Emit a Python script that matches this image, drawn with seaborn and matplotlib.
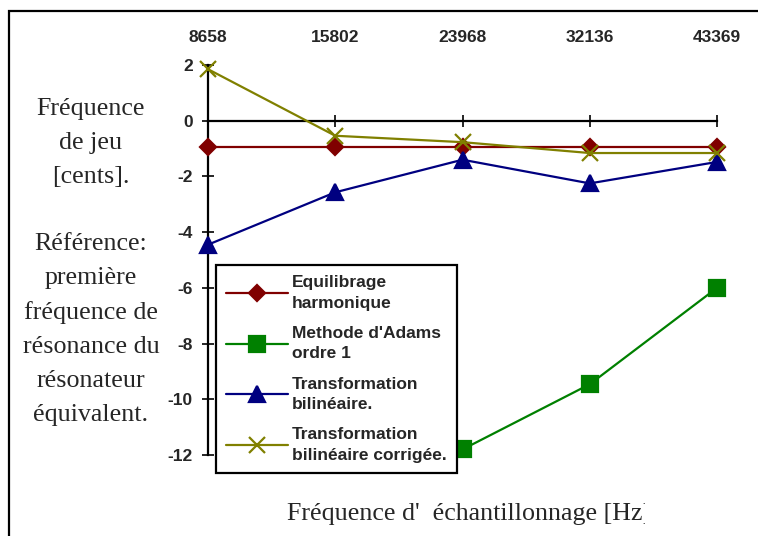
import numpy as np
import pandas as pd
import matplotlib
matplotlib.use("Agg")
import matplotlib.pyplot as plt
import seaborn as sns
from matplotlib.lines import Line2D
from matplotlib.patches import Rectangle

# Sampling frequencies (Hz) shown as categories
frequencies = ["8658", "15802", "23968", "32136", "43369"]

# Playing-frequency deviation in cents for each discretisation method
equilibrage = [-0.95, -0.95, -0.95, -0.95, -0.95]
adams = [np.nan, np.nan, -11.8, -9.46, -6.0]
bilineaire = [-4.45, -2.57, -1.4, -2.25, -1.48]
corrigee = [1.85, -0.54, -0.77, -1.16, -1.16]

labels = [
    "Equilibrage\nharmonique",
    "Methode d'Adams\nordre 1",
    "Transformation\nbilinéaire.",
    "Transformation\nbilinéaire corrigée.",
]
colors = ["#800000", "#008000", "#000080", "#808000"]
markers = ["D", "s", "^", "x"]
sizes = [8.5, 11.5, 12, 12]

ytick_values = [-12, -10, -8, -6, -4, -2, 0, 2]

series = [equilibrage, adams, bilineaire, corrigee]
df = pd.concat(
    [pd.DataFrame({"pos": np.arange(len(frequencies)), "value": vals, "method": lab})
     for vals, lab in zip(series, labels)],
    ignore_index=True,
)

sns.set_style("white")
plt.rcParams["font.family"] = ["Liberation Sans", "DejaVu Sans"]

W, H = 758, 536
fig = plt.figure(figsize=(W / 100, H / 100), dpi=100)
ax = fig.add_axes([208 / W, 1 - 455 / H, (717 - 208) / W, (455 - 65) / H])

for lab, col, mk, ms in zip(labels, colors, markers, sizes):
    sub = df[df["method"] == lab].dropna()
    sns.lineplot(data=sub, x="pos", y="value", color=col, marker=mk,
                 markersize=ms, mec=col, mfc=col, mew=1.6, lw=1.6,
                 clip_on=False, legend=False, ax=ax, zorder=3)

ax.set_xlim(0, len(frequencies) - 1)
ax.set_ylim(-12, 2)
ax.set_xlabel("")
ax.set_ylabel("")

for side in ["top", "right"]:
    ax.spines[side].set_visible(False)
ax.spines["bottom"].set_position(("data", 0))
for side in ["left", "bottom"]:
    ax.spines[side].set_linewidth(1.6)
    ax.spines[side].set_color("black")

ax.set_xticks(range(len(frequencies)))
ax.set_xticklabels(frequencies)
ax.set_yticks(ytick_values)
ax.set_yticklabels([str(v) for v in ytick_values])

ax.tick_params(axis="x", direction="inout", length=8.5, width=1.4,
               bottom=True, top=False, labelbottom=False, labeltop=True, pad=10.5)
ax.tick_params(axis="y", direction="inout", length=8, width=1.4,
               left=True, pad=7)
for t in ax.get_xticklabels() + ax.get_yticklabels():
    t.set_fontweight("bold")
    t.set_fontsize(12.5)
    t.set_fontfamily("Liberation Sans")

handles = [Line2D([], [], color=c, marker=m, markersize=s, mec=c, mfc=c,
                  mew=1.6, lw=1.6) for c, m, s in zip(colors, markers, sizes)]
leg = ax.legend(handles, labels, loc="upper left",
                bbox_to_anchor=(216 / W, 1 - 265 / H), bbox_transform=fig.transFigure,
                borderaxespad=0, frameon=True, fancybox=False, framealpha=1,
                edgecolor="black", handlelength=3.55, handletextpad=0.2,
                labelspacing=0.88, borderpad=0.6,
                prop={"family": "Liberation Sans", "weight": "bold", "size": 12.5})
for t in leg.get_texts():
    t.set_linespacing(1.45)
leg.get_frame().set_linewidth(1.6)
leg.set_zorder(10)

serif = "Liberation Serif"
fig.text(91 / W, 1 - 262 / H,
         "Fréquence\nde jeu\n[cents].\n\nRéférence:\npremière\nfréquence de\n"
         "résonance du\nrésonateur\néquivalent.",
         ha="center", va="center", multialignment="center",
         fontsize=18.7, family=serif, linespacing=1.69)

xl = fig.text(287 / W, 1 - 520 / H, "Fréquence d'  échantillonnage [Hz]",
              ha="left", va="baseline", fontsize=18.7, family=serif)
clip = Rectangle((0, 0), 645 / W, 1, transform=fig.transFigure,
                 facecolor="none", edgecolor="none")
fig.add_artist(clip)
xl.set_clip_path(clip)

fig.add_artist(Rectangle((9 / W, -0.1), 1.2, 1.1 - 11 / H,
                         transform=fig.transFigure, fill=False,
                         edgecolor="black", linewidth=1.6))

fig.savefig("out.png", dpi=100)
